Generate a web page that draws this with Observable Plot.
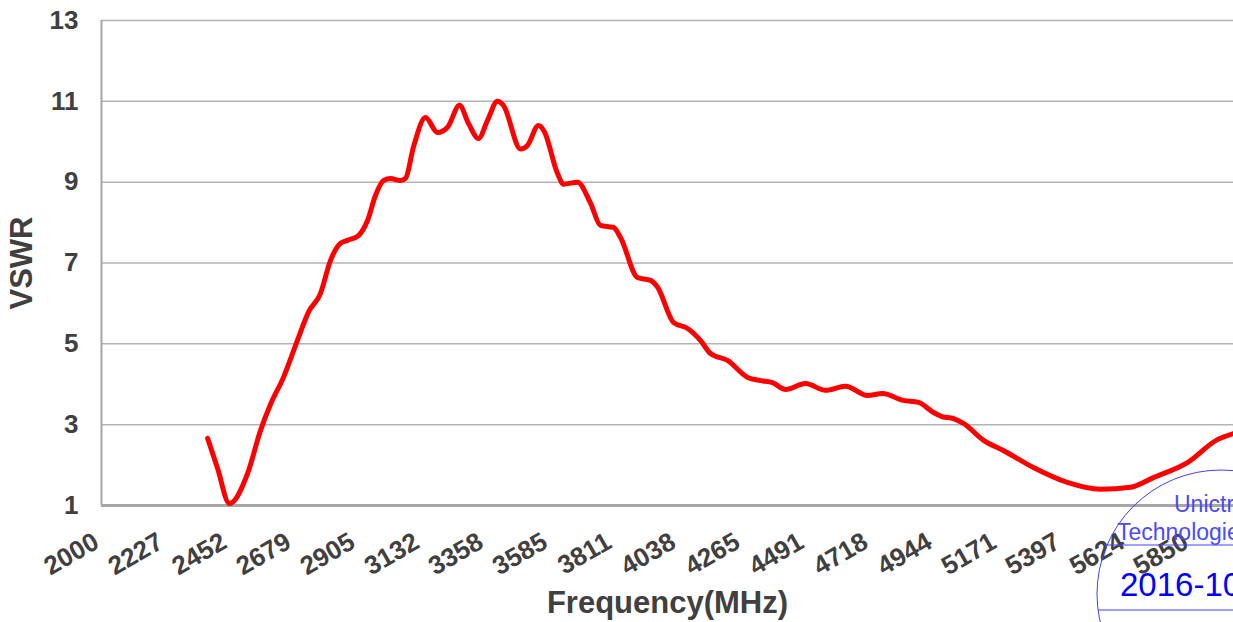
<!DOCTYPE html>
<html>
<head>
<meta charset="utf-8">
<script src="https://cdn.jsdelivr.net/npm/d3@7"></script>
<script src="https://cdn.jsdelivr.net/npm/@observablehq/plot@0.6"></script>
<style>
  html, body { margin: 0; padding: 0; background: #fff; overflow: hidden; }
  #wrap { position: relative; width: 1233px; height: 622px; overflow: hidden; }
  #stamp { position: absolute; left: 0; top: 0; }
</style>
</head>
<body>
<div id="wrap"></div>
<script>
const freqMHz = [2375, 2410, 2452, 2516, 2562, 2597, 2643, 2692, 2731, 2774, 2809, 2845, 2869, 2908, 2940, 2968, 2996, 3021, 3057, 3075, 3102, 3145, 3187, 3223, 3265, 3297, 3332, 3364, 3399, 3420, 3481, 3505, 3544, 3565, 3611, 3633, 3682, 3728, 3763, 3809, 3834, 3894, 3940, 3965, 4021, 4071, 4117, 4152, 4212, 4283, 4329, 4371, 4417, 4488, 4558, 4629, 4707, 4760, 4834, 4887, 4940, 4970, 5011, 5046, 5117, 5187, 5293, 5413, 5530, 5636, 5717, 5837, 5943, 6000];
const vswr = [2.66, 1.92, 1.05, 1.79, 2.86, 3.50, 4.17, 5.08, 5.78, 6.25, 7.06, 7.49, 7.56, 7.68, 8.05, 8.67, 9.04, 9.09, 9.04, 9.10, 9.86, 10.6, 10.23, 10.36, 10.9, 10.45, 10.08, 10.53, 11.0, 10.9, 9.82, 9.91, 10.4, 10.25, 9.22, 8.95, 9.0, 8.48, 7.93, 7.88, 7.63, 6.64, 6.57, 6.4, 5.53, 5.38, 5.08, 4.76, 4.59, 4.17, 4.09, 4.04, 3.87, 4.02, 3.85, 3.95, 3.72, 3.77, 3.60, 3.55, 3.30, 3.20, 3.15, 3.03, 2.61, 2.36, 1.94, 1.57, 1.40, 1.45, 1.69, 2.06, 2.63, 2.78];
const xTicks = [2000, 2227, 2452, 2679, 2905, 3132, 3358, 3585, 3811, 4038, 4265, 4491, 4718, 4944, 5171, 5397, 5624, 5850];
const yTicks = [1, 3, 5, 7, 9, 11, 13];
const xTitle = "Frequency(MHz)";
const yTitle = "VSWR";

const data = freqMHz.map((f, i) => ({f, v: vswr[i]}));
const font = "'Liberation Sans', Arial, sans-serif";
const textGray = "#404040";

const chart = Plot.plot({
  width: 1233,
  height: 622,
  marginLeft: 101,
  marginRight: 0,
  marginTop: 20,
  marginBottom: 117,
  style: {fontFamily: font, background: "#fff", overflow: "visible"},
  x: {domain: [2000, 6000], type: "linear"},
  y: {domain: [1, 13]},
  marks: [
    Plot.gridY(yTicks, {stroke: "#b3b3b3", strokeOpacity: 1, strokeWidth: 1.5}),
    Plot.ruleX([2000], {stroke: "#a6a6a6", strokeWidth: 2}),
    Plot.ruleY([1], {stroke: "#a6a6a6", strokeWidth: 3}),
    Plot.line(data, {x: "f", y: "v", stroke: "#ff0000", strokeWidth: 5, curve: "monotone-x", strokeLinejoin: "round", strokeLinecap: "round"}),
    Plot.axisY(yTicks, {tickSize: 0, tickPadding: 23, fontSize: 26, fontWeight: "bold", fill: textGray, label: null, tickFormat: d => String(d)}),
    Plot.axisX(xTicks, {tickSize: 0, tickPadding: 34, dx: -5, tickRotate: -30, fontSize: 26, fontWeight: "bold", fill: textGray, label: null, tickFormat: d => String(d)}),
    Plot.text([xTitle], {frameAnchor: "bottom", textAnchor: "middle", lineAnchor: "middle", dy: 98, fontSize: 31, fontWeight: "bold", fill: textGray, text: d => d}),
    Plot.text([yTitle], {frameAnchor: "left", textAnchor: "middle", lineAnchor: "middle", dx: -79, dy: 0, rotate: -90, fontSize: 31, fontWeight: "bold", fill: textGray, text: d => d})
  ]
});
const wrap = document.getElementById("wrap");
wrap.appendChild(chart);

// stamp overlay (annotation, not data)
const ns = "http://www.w3.org/2000/svg";
const s = document.createElementNS(ns, "svg");
s.setAttribute("id", "stamp");
s.setAttribute("width", 1233);
s.setAttribute("height", 622);
s.innerHTML = `
  <circle cx="1221" cy="594" r="124" fill="none" stroke="#4040ff" stroke-width="1"/>
  <line x1="1104" y1="545" x2="1233" y2="545" stroke="#4040ff" stroke-width="1"/>
  <line x1="1098" y1="610" x2="1233" y2="610" stroke="#4040ff" stroke-width="1"/>
  <text x="1174" y="512" font-family="'Liberation Sans', Arial, sans-serif" font-size="23" fill="#4a4aff">Unictron</text>
  <text x="1117" y="540" font-family="'Liberation Sans', Arial, sans-serif" font-size="23" fill="#4a4aff">Technologies</text>
  <text x="1120" y="596" font-family="'Liberation Sans', Arial, sans-serif" font-size="33" fill="#0000ff">2016-10</text>`;
wrap.appendChild(s);
</script>
</body>
</html>
